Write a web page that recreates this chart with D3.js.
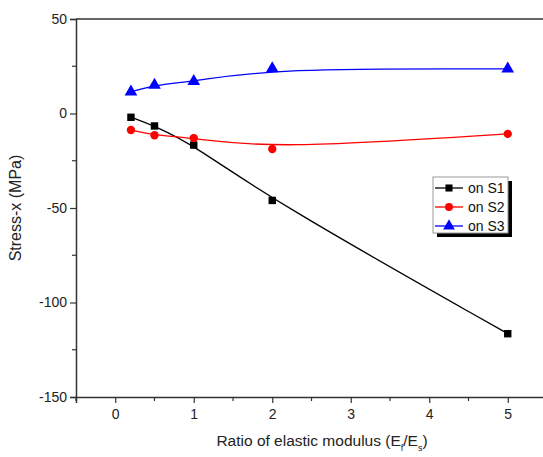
<!DOCTYPE html>
<html>
<head>
<meta charset="utf-8">
<script src="https://cdn.jsdelivr.net/npm/d3@7"></script>
<style>
  html, body { margin: 0; padding: 0; background: #fff; }
  svg { display: block; font-family: "Liberation Sans", Arial, sans-serif; }
</style>
</head>
<body>
<svg id="chart" width="543" height="457"></svg>
<script>
// Ratio of elastic modulus (Ef/Es)
const ratios = [0.2, 0.5, 1, 2, 5];
// Stress-x (MPa) measured on each surface
const stressS1 = [-2, -6.6, -16.7, -46, -116.5];
const stressS2 = [-8.7, -11.5, -13, -18.8, -10.8];
const stressS3 = [11.5, 15, 17, 23.8, 23.6];
const seriesNames = ["on S1", "on S2", "on S3"];
const xTicks = [0, 1, 2, 3, 4, 5];
const yTicks = [50, 0, -50, -100, -150];

const series = [
  { name: seriesNames[0], values: stressS1, color: "#000000", symbol: d3.symbolSquare },
  { name: seriesNames[1], values: stressS2, color: "#ff0000", symbol: d3.symbolCircle },
  { name: seriesNames[2], values: stressS3, color: "#0000ff", symbol: d3.symbolTriangle }
];

const svg = d3.select("#chart");
const plotLeft = 76, plotTop = 19, plotBottom = 397, plotRight = 547;

const x = d3.scaleLinear().domain([-0.5, 5.5]).range([plotLeft, plotRight]);
const y = d3.scaleLinear().domain([-150, 50]).range([plotBottom, plotTop]);

const axisColor = "#333";
// integer labels with a plain hyphen for negatives
const fmt = d => String(d);

// Top frame line
svg.append("line").attr("x1", plotLeft).attr("x2", plotRight).attr("y1", plotTop).attr("y2", plotTop)
  .attr("stroke", axisColor).attr("stroke-width", 1.5);

// Minor tick positions
const xMinor = d3.range(-0.5, 5.51, 0.5).filter(v => Math.abs(v - Math.round(v)) > 0.01);
const yMinor = [25, -25, -75, -125];

const gx = svg.append("g").attr("transform", `translate(0,${plotBottom})`);
gx.call(d3.axisBottom(x).tickValues(xTicks).tickFormat(fmt).tickSize(6).tickPadding(6));
gx.selectAll("line.minor").data(xMinor).enter().append("line").attr("class", "minor")
  .attr("x1", d => x(d)).attr("x2", d => x(d)).attr("y1", 0).attr("y2", 4)
  .attr("stroke", axisColor).attr("stroke-width", 1.2);

const gy = svg.append("g").attr("transform", `translate(${plotLeft},0)`);
gy.call(d3.axisLeft(y).tickValues(yTicks).tickFormat(fmt).tickSize(6).tickPadding(3));
gy.selectAll("line.minor").data(yMinor).enter().append("line").attr("class", "minor")
  .attr("x1", 0).attr("x2", -4).attr("y1", d => y(d)).attr("y2", d => y(d))
  .attr("stroke", axisColor).attr("stroke-width", 1.2);

[gx, gy].forEach(g => {
  g.select(".domain").attr("stroke", axisColor).attr("stroke-width", 1.5);
  g.selectAll(".tick line").attr("stroke", axisColor).attr("stroke-width", 1.2);
  g.selectAll(".tick text").attr("fill", "#222").style("font-size", "14px")
    .style("font-family", "'Liberation Sans', Arial, sans-serif");
});

// Smoothed curves and markers
const line = d3.line().x((d, i) => x(ratios[i])).y(d => y(d)).curve(d3.curveBasis);

series.forEach(s => {
  svg.append("path").datum(s.values)
    .attr("d", line).attr("fill", "none")
    .attr("stroke", s.color).attr("stroke-width", 1.3);
  svg.append("g").selectAll("path").data(s.values).enter().append("path")
    .attr("transform", (d, i) => `translate(${x(ratios[i])},${y(d)})`)
    .attr("d", d3.symbol().type(s.symbol).size(s.symbol === d3.symbolTriangle ? 70 : 55))
    .attr("fill", s.color);
});

// Legend with drop shadow
const lg = svg.append("g").attr("transform", "translate(433,177)");
lg.append("rect").attr("x", 4).attr("y", 4).attr("width", 75).attr("height", 56).attr("fill", "#000");
lg.append("rect").attr("x", 0).attr("y", 0).attr("width", 75).attr("height", 56)
  .attr("fill", "#fff").attr("stroke", "#999").attr("stroke-width", 1);
series.forEach((s, i) => {
  const cy = 11 + i * 19;
  lg.append("line").attr("x1", 2).attr("x2", 30).attr("y1", cy).attr("y2", cy)
    .attr("stroke", s.color).attr("stroke-width", 1.3);
  lg.append("path").attr("transform", `translate(16,${cy})`)
    .attr("d", d3.symbol().type(s.symbol).size(s.symbol === d3.symbolTriangle ? 60 : 50))
    .attr("fill", s.color);
  lg.append("text").attr("x", 35).attr("y", cy + 5).text(s.name)
    .style("font-size", "14px").attr("fill", "#111");
});

// Axis titles
svg.append("text")
  .attr("transform", `translate(21,${(plotTop + plotBottom) / 2}) rotate(-90)`)
  .attr("text-anchor", "middle").style("font-size", "16px").attr("fill", "#222")
  .text("Stress-x (MPa)");

const xt = svg.append("text").attr("x", 322).attr("y", 446)
  .attr("text-anchor", "middle").style("font-size", "15.5px").attr("fill", "#222");
xt.append("tspan").text("Ratio of elastic modulus (E");
xt.append("tspan").attr("baseline-shift", "sub").style("font-size", "9px").text("f");
xt.append("tspan").text("/E");
xt.append("tspan").attr("baseline-shift", "sub").style("font-size", "9px").text("s");
xt.append("tspan").text(")");
</script>
</body>
</html>
